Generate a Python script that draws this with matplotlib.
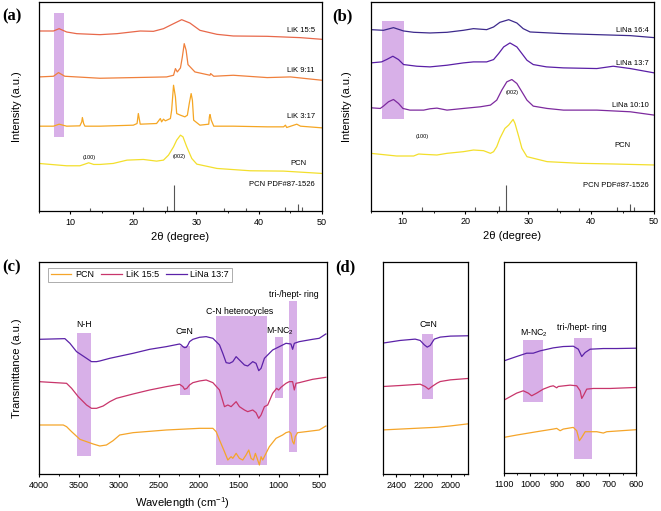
import matplotlib
matplotlib.use('Agg')
import matplotlib.pyplot as plt
from matplotlib.ticker import MultipleLocator
from matplotlib.patches import Rectangle

plt.rcParams['font.family'] = ['Liberation Sans', 'DejaVu Sans']
plt.rcParams['mathtext.default'] = 'regular'

# ---- (a) XRD, LiK series ----
lik155_x = [5, 7.3, 8.2, 9.4, 11, 14.7, 17.4, 21.1, 23.2, 24.8, 26.4, 27.7, 29, 30.6, 33.3, 35.9, 41.3, 46.6, 50]
lik155_y = [541, 541, 548, 538, 533, 530, 533, 541, 540, 548, 563, 575, 565, 543, 531, 526, 525, 521, 516]

lik911_x = [5, 7.3, 8.1, 9.1, 14.7, 20.0, 25.3, 26.4, 26.7, 27.0, 27.5, 27.8, 28.1, 28.4, 28.7, 29.3, 29.8, 32.2, 32.3, 32.8, 35.9, 41.3, 45.0, 50]
lik911_y = [403, 405, 416, 405, 399, 401, 403, 408, 428, 418, 430, 463, 503, 483, 440, 428, 418, 408, 413, 405, 408, 401, 403, 393]

lik317_x = [5, 7.3, 8.2, 9.4, 11.5, 11.8, 11.9, 12.1, 12.3, 14.7, 20.0, 20.6, 20.8, 21.1, 23.7, 24.1, 24.3, 24.5, 24.8,
            25.1, 25.9, 26.1, 26.4, 26.7, 26.9, 27.5, 28.2, 28.6, 28.9, 29.2, 29.4, 29.6, 30.6, 32.0, 32.1, 32.2, 32.4,
            32.8, 35.9, 41.3, 43.9, 44.2, 44.4, 46.0, 46.6, 50]
lik317_y = [255, 255, 261, 255, 256, 268, 281, 263, 255, 255, 258, 263, 293, 261, 263, 273, 278, 268, 276,
            271, 278, 303, 378, 343, 293, 288, 283, 288, 323, 353, 333, 273, 258, 261, 283, 290, 273,
            255, 255, 253, 253, 258, 251, 261, 255, 250]

pcn_a_x = [5, 9.4, 11.5, 12.3, 12.9, 13.7, 14.7, 16.8, 19.0, 21.6, 23.7, 24.8, 25.6, 26.4, 26.9, 27.5, 27.9, 28.5,
           29.3, 30.1, 33.3, 38.6, 43.9, 50]
pcn_a_y = [143, 136, 136, 141, 145, 140, 140, 143, 153, 155, 150, 153, 168, 193, 213, 228, 223, 193,
           158, 141, 128, 121, 120, 113]

pdf_pos = [13.1, 21.6, 25.3, 26.4, 34.5, 38.0, 44.1, 46.2, 46.8]
pdf_h = [8, 13, 16, 78, 8, 8, 11, 21, 11]

# ---- (b) XRD, LiNa series ----
lina164_x = [5, 7.0, 8.6, 10.2, 11.8, 14.4, 17.1, 19.7, 21.3, 23.4, 24.5, 25.5, 26.9, 28.2, 29.2, 30.3, 35.6, 40.9, 46.2, 50]
lina164_y = [544, 542, 550, 540, 536, 534, 536, 542, 547, 544, 552, 566, 574, 564, 547, 537, 532, 529, 526, 520]

lina137_x = [5, 6.7, 7.5, 8.5, 9.4, 10.2, 12.3, 14.4, 17.1, 19.7, 21.3, 23.4, 24.5, 25.3, 26.1, 27.1, 28.2, 29.0,
             29.8, 30.8, 32.9, 35.6, 40.9, 43.5, 46.2, 50]
lina137_y = [444, 447, 454, 464, 454, 439, 434, 432, 437, 444, 447, 447, 454, 472, 492, 504, 492, 472,
             452, 439, 432, 429, 427, 434, 427, 414]

lina1010_x = [5, 6.5, 7.0, 7.8, 8.6, 9.4, 10.1, 11.2, 13.4, 14.4, 15.5, 17.1, 19.7, 22.4, 24.0, 25.0, 25.8, 26.6,
              27.4, 28.2, 29.0, 29.8, 30.8, 33.0, 35.6, 40.9, 46.2, 50]
lina1010_y = [309, 307, 314, 327, 334, 322, 307, 302, 302, 306, 308, 302, 307, 312, 317, 332, 362, 387,
              394, 382, 357, 332, 314, 307, 302, 302, 297, 287]

pcn_b_x = [5, 9.1, 11.8, 12.6, 13.4, 15.5, 17.1, 19.7, 21.3, 22.9, 24.0, 24.5, 25.0, 25.5, 26.3, 26.9, 27.6, 27.9,
           28.5, 29.0, 29.8, 33.0, 38.2, 43.5, 50]
pcn_b_y = [172, 164, 164, 170, 169, 167, 172, 177, 182, 180, 172, 177, 192, 217, 247, 257, 274, 262,
           222, 187, 162, 147, 142, 140, 137]
pdf_h_b = [10, 10, 15, 77, 7, 7, 12, 20, 10]

# ---- (c) FTIR ----
lina_c_w = [4000, 3676, 3613, 3530, 3405, 3343, 3280, 3239, 3114, 2823, 2615, 2407, 2240, 2220, 2199, 2178, 2157,
            2136, 2116, 2074, 1991, 1908, 1824, 1741, 1700, 1658, 1616, 1575, 1533, 1492, 1429, 1388, 1325, 1284,
            1250, 1221, 1179, 1138, 1076, 992, 909, 847, 826, 805, 743, 576, 493, 410]
lina_c_t = [404, 406, 392, 367, 347, 337, 337, 339, 347, 362, 374, 382, 390, 387, 382, 379, 380,
            387, 397, 404, 410, 412, 407, 387, 362, 334, 332, 337, 352, 342, 327, 324, 337, 332,
            310, 317, 347, 357, 372, 382, 392, 390, 374, 392, 397, 404, 407, 420]

lik_c_w = [4000, 3655, 3592, 3509, 3405, 3343, 3280, 3197, 3114, 3031, 2823, 2615, 2407, 2240, 2199, 2178, 2149,
           2116, 2074, 1991, 1908, 1824, 1741, 1679, 1637, 1596, 1533, 1492, 1429, 1388, 1325, 1284, 1250, 1221,
           1179, 1138, 1076, 1026, 1001, 972, 909, 868, 826, 805, 784, 743, 576, 410]
lik_c_t = [277, 272, 257, 232, 207, 197, 197, 204, 217, 227, 240, 252, 262, 269, 262, 254, 257,
           267, 274, 279, 282, 274, 252, 202, 207, 202, 217, 202, 192, 187, 192, 184, 167, 177,
           202, 207, 242, 257, 252, 260, 272, 277, 277, 252, 272, 274, 284, 290]

pcn_c_w = [4000, 3696, 3655, 3592, 3488, 3405, 3322, 3239, 3156, 3073, 2990, 2823, 2407, 1991, 1824, 1783, 1741,
           1679, 1637, 1596, 1575, 1533, 1492, 1450, 1409, 1375, 1346, 1317, 1292, 1263, 1242, 1221, 1201, 1159,
           1117, 1034, 951, 909, 868, 847, 826, 809, 793, 764, 660, 493, 410]
pcn_c_t = [147, 147, 142, 127, 104, 97, 90, 84, 87, 100, 117, 124, 132, 137, 137, 127, 102,
           67, 42, 52, 47, 62, 47, 42, 57, 72, 47, 42, 62, 42, 27, 52, 42, 62,
           82, 107, 117, 124, 127, 122, 97, 90, 112, 124, 127, 132, 144]

# ---- (d) zoomed FTIR ----
lina_d1_w = [2500, 2372, 2261, 2224, 2194, 2172, 2150, 2120, 2076, 2001, 1876]
lina_d1_t = [392, 400, 404, 400, 387, 380, 385, 404, 410, 413, 414]
lik_d1_w = [2500, 2372, 2224, 2187, 2162, 2137, 2100, 2076, 2001, 1876]
lik_d1_t = [262, 265, 269, 262, 254, 262, 272, 277, 282, 286]
pcn_d1_w = [2500, 2300, 2100, 2000, 1876]
pcn_d1_t = [132, 136, 140, 144, 150]

lina_d2_w = [1100, 1052, 1014, 989, 963, 913, 875, 837, 818, 805, 792, 773, 723, 672, 600]
lina_d2_t = [337, 350, 360, 360, 367, 376, 380, 381, 372, 350, 362, 372, 374, 374, 375]
lik_d2_w = [1100, 1052, 1027, 1008, 995, 976, 951, 925, 913, 900, 894, 849, 824, 811, 805, 799, 786, 761, 697, 600]
lik_d2_t = [219, 240, 247, 240, 232, 240, 252, 260, 262, 256, 260, 264, 262, 247, 224, 232, 252, 254, 254, 257]
pcn_d2_w = [1100, 1052, 976, 913, 900, 887, 875, 837, 824, 814, 805, 792, 748, 723, 710, 600]
pcn_d2_t = [107, 114, 124, 132, 134, 127, 132, 137, 127, 97, 107, 124, 124, 120, 124, 130]

BOX = '#d4a8e6'
C_PCN_Y = '#f3df2c'
C_PCN_O = '#f5a52a'
C_LIK = '#c8356b'
C_LINA = '#5b22a8'


def estilo(ax, major, minor):
    for s in ax.spines.values():
        s.set_linewidth(0.9)
    ax.set_yticks([])
    ax.xaxis.set_major_locator(MultipleLocator(major))
    ax.xaxis.set_minor_locator(MultipleLocator(minor))
    ax.tick_params(axis='x', which='major', direction='out', length=2.5, width=0.8, pad=2.5, labelsize=6.5)
    ax.tick_params(axis='x', which='minor', direction='out', length=1.5, width=0.6)


def caixa(ax, x0, x1, y0, y1):
    ax.add_patch(Rectangle((min(x0, x1), y0), abs(x1 - x0), y1 - y0, facecolor=BOX, edgecolor='none',
                           alpha=0.9, zorder=0))


fig = plt.figure(figsize=(6.61, 5.11), dpi=100)

# Painel (a)
ax = fig.add_axes([0.059, 0.587, 0.428, 0.409])
caixa(ax, 7.4, 9.0, 223, 596)
ax.plot(lik155_x, lik155_y, color='#e8684a', lw=0.9)
ax.plot(lik911_x, lik911_y, color='#f0803c', lw=0.9)
ax.plot(lik317_x, lik317_y, color='#f5a623', lw=0.9)
ax.plot(pcn_a_x, pcn_a_y, color=C_PCN_Y, lw=0.9)
ax.vlines(pdf_pos, 0, pdf_h, color='#555555', lw=0.8)
ax.set_xlim(5, 50)
ax.set_ylim(0, 628)
estilo(ax, 10, 5)
for txt, yy in [('LiK 15:5', 541), ('LiK 9:11', 421), ('LiK 3:17', 284), ('PCN PDF#87-1526', 80)]:
    ax.text(48.9, yy, txt, ha='right', va='center', fontsize=5.5)
ax.text(46.3, 143, 'PCN', ha='center', va='center', fontsize=5.5)
ax.text(27.3, 163, '(002)', ha='center', va='center', fontsize=4)
ax.text(13.0, 160, '(100)', ha='center', va='center', fontsize=4)
ax.set_xlabel('2θ (degree)', fontsize=8)
ax.set_ylabel('Intensity (a.u.)', fontsize=8)
ax.xaxis.set_label_coords(0.5, -0.10)
ax.yaxis.set_label_coords(-0.06, 0.5)

# Painel (b)
ax = fig.add_axes([0.561, 0.588, 0.4286, 0.408])
caixa(ax, 6.85, 10.3, 275, 569)
ax.plot(lina164_x, lina164_y, color='#3d2a8c', lw=0.9)
ax.plot(lina137_x, lina137_y, color='#5a1fa6', lw=0.9)
ax.plot(lina1010_x, lina1010_y, color='#7d2a9e', lw=0.9)
ax.plot(pcn_b_x, pcn_b_y, color=C_PCN_Y, lw=0.9)
ax.vlines(pdf_pos, 0, pdf_h_b, color='#555555', lw=0.8)
ax.set_xlim(5, 50)
ax.set_ylim(0, 627)
estilo(ax, 10, 5)
for txt, yy in [('LiNa 16:4', 540), ('LiNa 13:7', 442), ('LiNa 10:10', 317), ('PCN PDF#87-1526', 74)]:
    ax.text(49.2, yy, txt, ha='right', va='center', fontsize=5.5)
ax.text(45.0, 197, 'PCN', ha='center', va='center', fontsize=5.5)
ax.text(27.5, 354, '(002)', ha='center', va='center', fontsize=4)
ax.text(13.1, 224, '(100)', ha='center', va='center', fontsize=4)
ax.set_xlabel('2θ (degree)', fontsize=8)
ax.set_ylabel('Intensity (a.u.)', fontsize=8)
ax.xaxis.set_label_coords(0.5, -0.10)
ax.yaxis.set_label_coords(-0.067, 0.5)

# Painel (c)
ax = fig.add_axes([0.059, 0.0724, 0.4352, 0.4143])
caixa(ax, 3522, 3343, 54, 424)
caixa(ax, 2240, 2116, 236, 385)
caixa(ax, 1791, 1146, 27, 474)
caixa(ax, 1042, 947, 227, 410)
caixa(ax, 867, 772, 65, 520)
ax.plot(pcn_c_w, pcn_c_t, color=C_PCN_O, lw=0.9, label='PCN')
ax.plot(lik_c_w, lik_c_t, color=C_LIK, lw=0.9, label='LiK 15:5')
ax.plot(lina_c_w, lina_c_t, color=C_LINA, lw=0.9, label='LiNa 13:7')
ax.set_xlim(4000, 400)
ax.set_ylim(0, 635)
estilo(ax, 500, 250)
ax.text(3434, 447, 'N-H', ha='center', va='center', fontsize=6.3)
ax.text(2178, 427, 'C≡N', ha='center', va='center', fontsize=6.3)
ax.text(1492, 487, 'C-N heterocycles', ha='center', va='center', fontsize=6.3)
ax.text(984, 429, 'M-NC$_2$', ha='center', va='center', fontsize=6.3)
ax.text(805, 539, 'tri-/hept- ring', ha='center', va='center', fontsize=6.3)
leg = ax.legend(loc='upper left', bbox_to_anchor=(0.031, 0.975), borderaxespad=0, ncol=3, fontsize=6.5,
                frameon=True, fancybox=False, edgecolor='#888888', handlelength=2.3, columnspacing=0.8,
                handletextpad=0.4, borderpad=0.3)
leg.get_frame().set_linewidth(0.6)
ax.set_xlabel('Wavelength (cm$^{-1}$)', fontsize=8)
ax.set_ylabel('Transmittance (a.u.)', fontsize=8)
ax.xaxis.set_label_coords(0.5, -0.10)
ax.yaxis.set_label_coords(-0.059, 0.5)

# Painel (d) esquerda
ax = fig.add_axes([0.579, 0.0724, 0.1283, 0.4149])
caixa(ax, 2211, 2133, 225, 419)
ax.plot(pcn_d1_w, pcn_d1_t, color=C_PCN_O, lw=0.9)
ax.plot(lik_d1_w, lik_d1_t, color=C_LIK, lw=0.9)
ax.plot(lina_d1_w, lina_d1_t, color=C_LINA, lw=0.9)
ax.set_xlim(2500, 1875)
ax.set_ylim(0, 635)
estilo(ax, 200, 100)
ax.text(2162, 447, 'C≡N', ha='center', va='center', fontsize=6.3)

# Painel (d) direita
ax = fig.add_axes([0.7625, 0.0744, 0.1993, 0.4135])
caixa(ax, 1027, 951, 214, 400)
caixa(ax, 834, 765, 42, 407)
ax.plot(pcn_d2_w, pcn_d2_t, color=C_PCN_O, lw=0.9)
ax.plot(lik_d2_w, lik_d2_t, color=C_LIK, lw=0.9)
ax.plot(lina_d2_w, lina_d2_t, color=C_LINA, lw=0.9)
ax.set_xlim(1100, 600)
ax.set_ylim(0, 635)
estilo(ax, 100, 50)
ax.text(985, 419, 'M-NC$_2$', ha='center', va='center', fontsize=6.3)
ax.text(803, 437, 'tri-/hept- ring', ha='center', va='center', fontsize=6.3)

# Letras dos painéis
for txt, x, y in [('(a)', 2, 16), ('(b)', 332, 16), ('(c)', 2, 267), ('(d)', 335, 267)]:
    fig.text(x / 661, 1 - y / 511, txt, ha='left', va='center', fontsize=12, fontweight='bold',
             family='Liberation Serif')

fig.savefig('out.png', dpi=100)
